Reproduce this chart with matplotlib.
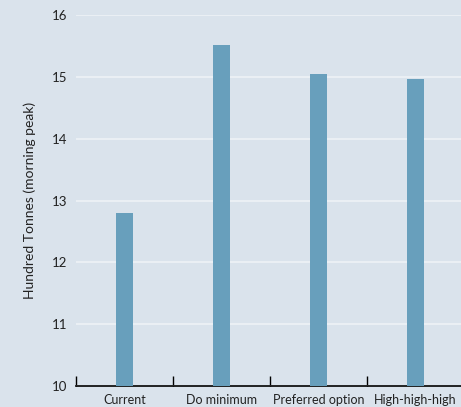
import matplotlib.pyplot as plt
import numpy as np

categories = ["Current", "Do minimum", "Preferred option", "High-high-high"]
values = [12.8, 15.52, 15.05, 14.97]
y_ticks = [10, 11, 12, 13, 14, 15, 16]

bg = "#dae3ec"
bar_color = "#689fbc"

plt.rcParams['font.family'] = ['Lato', 'DejaVu Sans']

W, H = 461, 407
fig = plt.figure(figsize=(W / 100, H / 100), dpi=100, facecolor=bg)

# axes runs slightly past the right edge, like the original
left, right = 76, 464
bottom, top = 386, 15.3
ax = fig.add_axes([left / W, (H - bottom) / H, (right - left) / W, (bottom - top) / H])
ax.set_facecolor(bg)

x = np.arange(len(categories))
ax.bar(x, values, width=0.165, color=bar_color, zorder=3)

ax.set_xlim(-0.5, len(categories) - 0.5)
ax.set_ylim(10, 16)
ax.set_yticks(y_ticks)
ax.set_yticklabels([str(t) for t in y_ticks], fontsize=9.5, color="#222222")
ax.tick_params(axis='y', length=0, pad=6)

# category labels centred, tick marks at the boundaries
ax.set_xticks(x)
ax.set_xticklabels(categories, fontsize=9, color="#222222")
ax.tick_params(axis='x', which='major', length=0, pad=6)
ax.set_xticks(np.arange(len(categories)) - 0.5, minor=True)
ax.tick_params(axis='x', which='minor', direction='in', length=7, width=1, color="black")

ax.grid(axis='y', color="#eef2f6", linewidth=1.2, zorder=0)
for s in ['top', 'right', 'left']:
    ax.spines[s].set_visible(False)
ax.spines['bottom'].set_color("black")
ax.spines['bottom'].set_linewidth(1.2)

ax.set_ylabel("Hundred Tonnes (morning peak)", fontsize=10, color="#222222", labelpad=12)

fig.savefig("out.png", dpi=100, facecolor=bg)
